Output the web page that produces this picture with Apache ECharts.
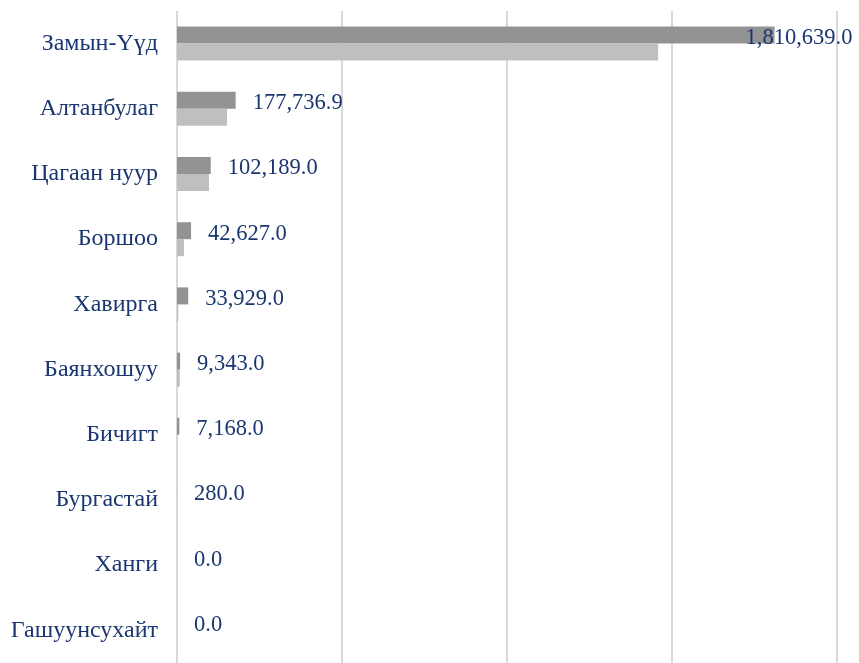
<!DOCTYPE html>
<html>
<head>
<meta charset="utf-8">
<script src="https://cdn.jsdelivr.net/npm/echarts@6/dist/echarts.min.js"></script>
<style>
html,body{margin:0;padding:0;background:#fff;}
#chart{width:859px;height:663px;}
</style>
</head>
<body>
<div id="chart"></div>
<script>
const categories = ['Замын-Үүд','Алтанбулаг','Цагаан нуур','Боршоо','Хавирга','Баянхошуу','Бичигт','Бургастай','Ханги','Гашуунсухайт'];
const darkValues = [1810639.0, 177736.9, 102189.0, 42627.0, 33929.0, 9343.0, 7168.0, 280.0, 0.0, 0.0];
const lightValues = [1458000, 151500, 97000, 21000, 4000, 8500, 300, 0, 0, 0];
const axisMax = 2000000;
const axisInterval = 500000;

const navy = '#1A3670';
const fontFamily = 'Liberation Serif';

function fmt(v){
  return v.toLocaleString('en-US',{minimumFractionDigits:1,maximumFractionDigits:1});
}

const chart = echarts.init(document.getElementById('chart'), null, {renderer:'canvas'});
chart.setOption({
  animation:false,
  backgroundColor:'#ffffff',
  grid:{left:177, right:22, top:11, bottom:0, containLabel:false},
  xAxis:{
    type:'value', min:0, max:axisMax, interval:axisInterval,
    axisLabel:{show:false}, axisLine:{show:false}, axisTick:{show:false},
    splitLine:{show:true, lineStyle:{color:'#D9D9D9', width:2}}
  },
  yAxis:{
    type:'category', data:categories, inverse:true,
    axisLine:{show:false}, axisTick:{show:false},
    axisLabel:{color:navy, fontFamily:fontFamily, fontSize:24, margin:19, padding:[9,0,0,0]}
  },
  series:[
    {
      name:'dark', type:'bar', data:darkValues.map((v,i)=> i===0 ? {value:v, label:{offset:[-46,3]}} : v),
      barWidth:17, barGap:'0%',
      itemStyle:{color:'#939393'},
      label:{show:true, position:'right', distance:17, offset:[0,3], color:navy, fontFamily:fontFamily, fontSize:22.5,
        formatter:p=>fmt(p.value)}
    },
    {
      name:'light', type:'bar', data:lightValues,
      barWidth:17, barGap:'0%',
      itemStyle:{color:'#BFBFBF'}
    }
  ]
});
</script>
</body>
</html>
